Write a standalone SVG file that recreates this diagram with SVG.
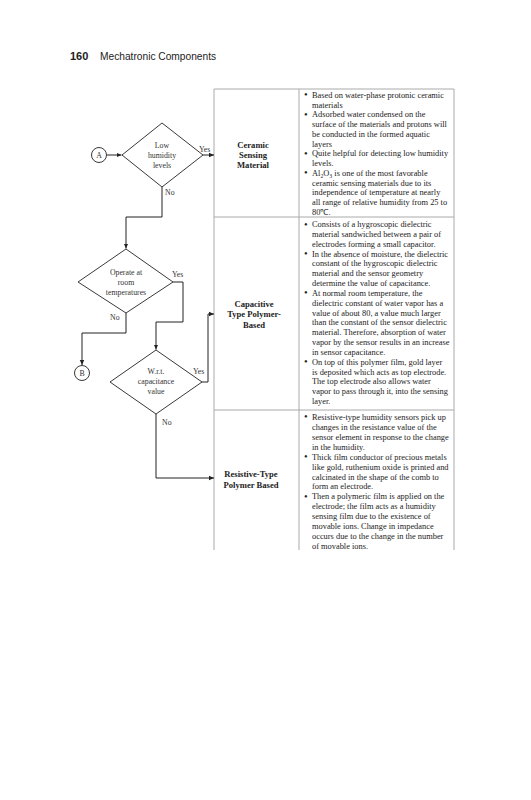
<svg xmlns="http://www.w3.org/2000/svg" width="531" height="800" viewBox="0 0 531 800">
<defs>
<marker id="ah" markerWidth="6" markerHeight="6" refX="5" refY="3" orient="auto" markerUnits="userSpaceOnUse">
<path d="M0,0.8 L5,3 L0,5.2 Z" fill="#222"/>
</marker>
<style>
.hdr{font-family:"Liberation Sans",Arial,sans-serif;fill:#222}
.fc{font-family:"Liberation Serif","Times New Roman",serif;font-size:7.8px;fill:#333;text-anchor:middle}
.lbl{font-family:"Liberation Serif","Times New Roman",serif;font-size:7.8px;fill:#333}
.shape{fill:#fff;stroke:#222;stroke-width:0.9}
.conn{fill:none;stroke:#222;stroke-width:1}
.grid{fill:none;stroke:#aaa;stroke-width:1}
.body{font-family:"Liberation Serif","Times New Roman",serif;font-size:8.4px;fill:#222}
.bul{font-family:"Liberation Serif","Times New Roman",serif;font-size:10.5px;fill:#222}
.head{font-family:"Liberation Serif","Times New Roman",serif;font-size:8.6px;font-weight:bold;fill:#222;text-anchor:middle}
.sub{font-size:5.8px}
</style>
</defs>
<rect width="531" height="800" fill="#fff"/>

<g id="header">
<text class="hdr" x="70" y="60" font-size="11" font-weight="bold">160</text>
<text class="hdr" x="100" y="60" font-size="10.2">Mechatronic Components</text>
</g>

<g id="table">
<path class="grid" d="M214,89 H454 M214,217 H454 M214,410 H454 M214,89 V550 M299,89 V550 M454,89 V550"/>
</g>

<g id="connectors">
<path class="conn" d="M107,155 H121.5" marker-end="url(#ah)"/>
<path class="conn" d="M203,155 H214" marker-end="url(#ah)"/>
<path class="conn" d="M162,187 V217 H126 V248.5" marker-end="url(#ah)"/>
<path class="conn" d="M173,282 H183 V322 H156 V349.5" marker-end="url(#ah)"/>
<path class="conn" d="M126,313 V333 H82 V365" marker-end="url(#ah)"/>
<path class="conn" d="M202,382 H208 V314 H214" marker-end="url(#ah)"/>
<path class="conn" d="M156,414 V478 H214" marker-end="url(#ah)"/>
<text class="lbl" x="199" y="151.5">Yes</text>
<text class="lbl" x="165" y="195">No</text>
<text class="lbl" x="172" y="277">Yes</text>
<text class="lbl" x="110" y="320">No</text>
<text class="lbl" x="193" y="374">Yes</text>
<text class="lbl" x="162" y="425">No</text>
</g>

<g id="node-A">
<circle class="shape" cx="99" cy="155" r="7.5"/>
<text class="fc" x="99" y="158">A</text>
</g>

<g id="node-low-humidity">
<path class="shape" d="M162,123 L203,155 L162,187 L122,155 Z"/>
<text class="fc" x="162" y="148">Low</text>
<text class="fc" x="162" y="158">humidity</text>
<text class="fc" x="162" y="168">levels</text>
</g>

<g id="node-room-temp">
<path class="shape" d="M126,249 L173,282 L126,313 L78,282 Z"/>
<text class="fc" x="126" y="275">Operate at</text>
<text class="fc" x="126" y="285">room</text>
<text class="fc" x="126" y="295">temperatures</text>
</g>

<g id="node-B">
<circle class="shape" cx="82" cy="373" r="7.5"/>
<text class="fc" x="82" y="376">B</text>
</g>

<g id="node-capacitance">
<path class="shape" d="M156,350 L202,382 L156,414 L110,382 Z"/>
<text class="fc" x="156" y="374">W.r.t.</text>
<text class="fc" x="156" y="384">capacitance</text>
<text class="fc" x="156" y="394">value</text>
</g>

<g id="node-ceramic">
<text class="head" x="253" y="148">Ceramic</text>
<text class="head" x="253" y="158">Sensing</text>
<text class="head" x="253" y="168">Material</text>
<text class="bul">
<tspan x="304" y="98.3">•</tspan>
<tspan x="304" y="117.8">•</tspan>
<tspan x="304" y="156.8">•</tspan>
<tspan x="304" y="176.3">•</tspan>
</text>
<text class="body">
<tspan x="312" y="97.8">Based on water-phase protonic ceramic</tspan>
<tspan x="312" y="107.55">materials</tspan>
<tspan x="312" y="117.3">Adsorbed water condensed on the</tspan>
<tspan x="312" y="127.05">surface of the materials and protons will</tspan>
<tspan x="312" y="136.8">be conducted in the formed aquatic</tspan>
<tspan x="312" y="146.55">layers</tspan>
<tspan x="312" y="156.3">Quite helpful for detecting low humidity</tspan>
<tspan x="312" y="166.05">levels.</tspan>
<tspan x="312" y="175.8">Al<tspan class="sub" baseline-shift="-1.8">2</tspan>O<tspan class="sub" baseline-shift="-1.8">3</tspan> is one of the most favorable</tspan>
<tspan x="312" y="185.55">ceramic sensing materials due to its</tspan>
<tspan x="312" y="195.3">independence of temperature at nearly</tspan>
<tspan x="312" y="205.05">all range of relative humidity from 25 to</tspan>
<tspan x="312" y="214.8">80℃.</tspan>
</text>
</g>

<g id="node-capacitive">
<text class="head" x="254" y="307">Capacitive</text>
<text class="head" x="254" y="317">Type Polymer-</text>
<text class="head" x="254" y="327.5">Based</text>
<text class="bul">
<tspan x="304" y="227.5">•</tspan>
<tspan x="304" y="257">•</tspan>
<tspan x="304" y="296.3">•</tspan>
<tspan x="304" y="365.1">•</tspan>
</text>
<text class="body">
<tspan x="312" y="227">Consists of a hygroscopic dielectric</tspan>
<tspan x="312" y="236.83">material sandwiched between a pair of</tspan>
<tspan x="312" y="246.66">electrodes forming a small capacitor.</tspan>
<tspan x="312" y="256.5">In the absence of moisture, the dielectric</tspan>
<tspan x="312" y="266.3">constant of the hygroscopic dielectric</tspan>
<tspan x="312" y="276.15">material and the sensor geometry</tspan>
<tspan x="312" y="286">determine the value of capacitance.</tspan>
<tspan x="312" y="295.8">At normal room temperature, the</tspan>
<tspan x="312" y="305.6">dielectric constant of water vapor has a</tspan>
<tspan x="312" y="315.5">value of about 80, a value much larger</tspan>
<tspan x="312" y="325.3">than the constant of the sensor dielectric</tspan>
<tspan x="312" y="335.1">material. Therefore, absorption of water</tspan>
<tspan x="312" y="345">vapor by the sensor results in an increase</tspan>
<tspan x="312" y="354.8">in sensor capacitance.</tspan>
<tspan x="312" y="364.6">On top of this polymer film, gold layer</tspan>
<tspan x="312" y="374.5">is deposited which acts as top electrode.</tspan>
<tspan x="312" y="384.3">The top electrode also allows water</tspan>
<tspan x="312" y="394.1">vapor to pass through it, into the sensing</tspan>
<tspan x="312" y="404">layer.</tspan>
</text>
</g>

<g id="node-resistive">
<text class="head" x="251" y="477">Resistive-Type</text>
<text class="head" x="251" y="487.5">Polymer Based</text>
<text class="bul">
<tspan x="304" y="420.3">•</tspan>
<tspan x="304" y="460.1">•</tspan>
<tspan x="304" y="499.9">•</tspan>
</text>
<text class="body">
<tspan x="312" y="419.8">Resistive-type humidity sensors pick up</tspan>
<tspan x="312" y="429.75">changes in the resistance value of the</tspan>
<tspan x="312" y="439.7">sensor element in response to the change</tspan>
<tspan x="312" y="449.65">in the humidity.</tspan>
<tspan x="312" y="459.6">Thick film conductor of precious metals</tspan>
<tspan x="312" y="469.55">like gold, ruthenium oxide is printed and</tspan>
<tspan x="312" y="479.5">calcinated in the shape of the comb to</tspan>
<tspan x="312" y="489.45">form an electrode.</tspan>
<tspan x="312" y="499.4">Then a polymeric film is applied on the</tspan>
<tspan x="312" y="509.35">electrode; the film acts as a humidity</tspan>
<tspan x="312" y="519.3">sensing film due to the existence of</tspan>
<tspan x="312" y="529.25">movable ions. Change in impedance</tspan>
<tspan x="312" y="539.2">occurs due to the change in the number</tspan>
<tspan x="312" y="549.15">of movable ions.</tspan>
</text>
</g>
</svg>
